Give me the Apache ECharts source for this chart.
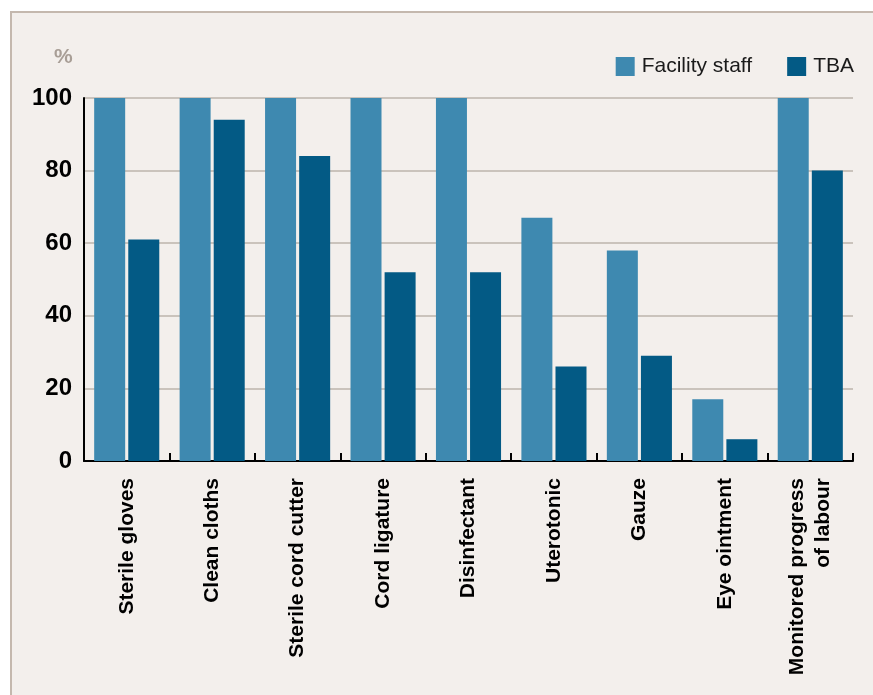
<!DOCTYPE html>
<html>
<head>
<meta charset="utf-8">
<script src="https://cdn.jsdelivr.net/npm/echarts@6/dist/echarts.min.js"></script>
<style>
html,body{margin:0;padding:0;background:#ffffff;}
#chart{width:873px;height:695px;}
</style>
</head>
<body>
<div id="chart"></div>
<script>
const categories = ["Sterile gloves", "Clean cloths", "Sterile cord cutter", "Cord ligature", "Disinfectant", "Uterotonic", "Gauze", "Eye ointment", "Monitored progress\nof labour"];
const facilityStaff = [100, 100, 100, 100, 100, 67, 58, 17, 100];
const tba = [61, 94, 84, 52, 52, 26, 29, 6, 80];
const yTicks = [0, 20, 40, 60, 80, 100];
const seriesNames = ["Facility staff", "TBA"];

const chart = echarts.init(document.getElementById('chart'), null, {renderer: 'canvas'});
const sans = "'Liberation Sans', Arial, sans-serif";
const option = {
  backgroundColor: '#ffffff',
  animation: false,
  graphic: [
    {type: 'rect', z: -10, silent: true, shape: {x: 11, y: 12, width: 900, height: 720},
     style: {fill: '#f3efec', stroke: '#c4b8ae', lineWidth: 2}},
    {type: 'text', left: 54, top: 47, style: {text: '%', fill: '#a89e96', font: "bold 21px 'Liberation Sans', Arial, sans-serif"}}
  ],
  legend: {
    right: 19, top: 56, padding: 0,
    itemWidth: 19, itemHeight: 19, itemGap: 35,
    icon: 'rect',
    data: seriesNames,
    textStyle: {fontFamily: sans, fontSize: 21, color: '#1a1a1a', padding: [0, 0, 0, 2]}
  },
  grid: {left: 84, right: 20, top: 98, bottom: 234, containLabel: false, outerBoundsMode: 'none'},
  xAxis: {
    type: 'category',
    data: categories,
    boundaryGap: true,
    axisLine: {show: true, lineStyle: {color: '#000', width: 2}},
    axisTick: {show: true, inside: true, length: 8, lineStyle: {color: '#000', width: 2}},
    axisLabel: {rotate: 90, margin: 17, interval: 0, fontFamily: sans, fontWeight: 'bold', fontSize: 21, color: '#000', lineHeight: 26}
  },
  yAxis: {
    type: 'value', min: yTicks[0], max: yTicks[yTicks.length - 1], interval: 20,
    axisLine: {show: true, lineStyle: {color: '#000', width: 2}},
    axisTick: {show: false},
    axisLabel: {margin: 12, fontFamily: sans, fontWeight: 'bold', fontSize: 24, color: '#000'},
    splitLine: {show: true, lineStyle: {color: '#bdb4ac', width: 1.5}}
  },
  series: [
    {name: seriesNames[0], type: 'bar', data: facilityStaff, barWidth: 31, barGap: '10%', itemStyle: {color: '#3e89b0'}},
    {name: seriesNames[1], type: 'bar', data: tba, barWidth: 31, barGap: '10%', itemStyle: {color: '#035a85'}}
  ]
};
chart.setOption(option);
</script>
</body>
</html>
